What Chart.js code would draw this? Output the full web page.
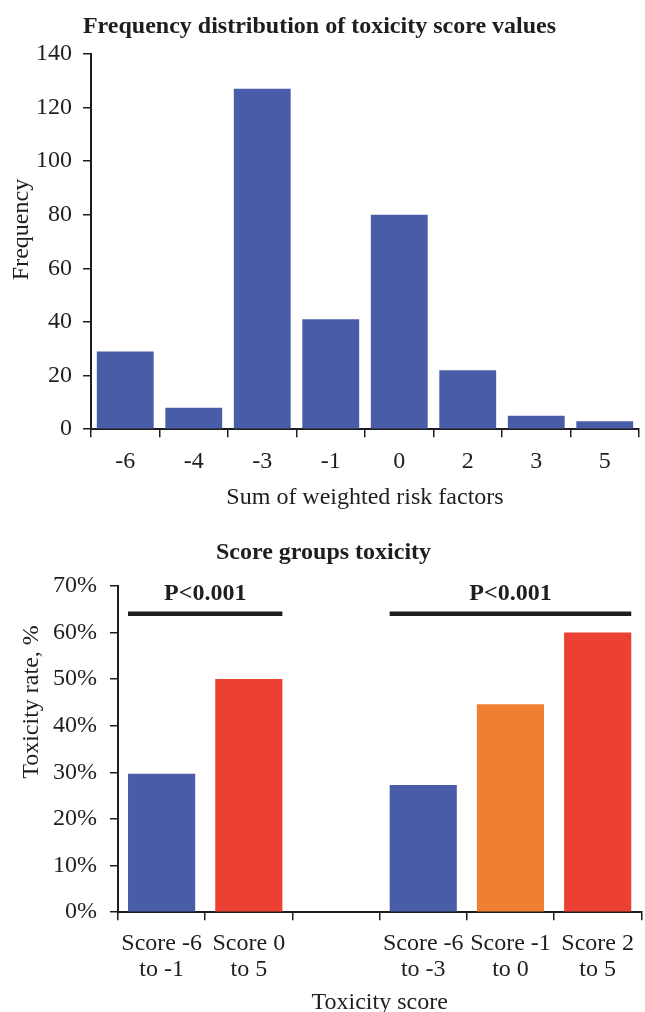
<!DOCTYPE html>
<html>
<head>
<meta charset="utf-8">
<script src="https://cdn.jsdelivr.net/npm/chart.js@4.4.1/dist/chart.umd.min.js"></script>
<style>
  html, body { margin: 0; padding: 0; background: #fff; height: 1012px; overflow: hidden; }
  .box { position: absolute; left: 0; width: 645px; }
  #top { top: 0; height: 515px; }
  #bottom { top: 525px; height: 490px; }
</style>
</head>
<body>
<div class="box" id="top"><canvas id="freqChart"></canvas></div>
<div class="box" id="bottom"><canvas id="toxChart"></canvas></div>
<script>
// frequency distribution
const scoreLabels = ['-6', '-4', '-3', '-1', '0', '2', '3', '5'];
const frequencies = [29, 8, 127, 41, 80, 22, 5, 3];
const freqTicks = [0, 20, 40, 60, 80, 100, 120, 140];

// score groups toxicity
const groupLabels = [['Score -6', 'to -1'], ['Score 0', 'to 5'], '', ['Score -6', 'to -3'], ['Score -1', 'to 0'], ['Score 2', 'to 5']];
const toxicityRates = [29.7, 50, null, 27.3, 44.6, 60];
const rateTicks = [0, 10, 20, 30, 40, 50, 60, 70];
const pGroups = [[0, 1], [3, 5]];
const pLabels = ['P<0.001', 'P<0.001'];
const pLevel = 64;

const BLUE = '#485ca7';
const RED = '#ec4034';
const ORANGE = '#f07f31';
const INK = '#1e1e1e';
const SERIF = "'Liberation Serif', 'DejaVu Serif', serif";

Chart.defaults.font.family = SERIF;
Chart.defaults.color = INK;
Chart.defaults.animation = false;

function axisStyle() {
    return {
        grid: { display: true, drawOnChartArea: false, drawTicks: true, tickLength: 8, color: INK, lineWidth: 1.5 },
        border: { display: true, color: INK, width: 2 }
    };
}

// rotated y axis title, placed a bit above the chart area centre like the original
const yTitle = {
    id: 'yTitle',
    afterDraw(chart, args, opts) {
        const ctx = chart.ctx;
        const a = chart.chartArea;
        ctx.save();
        ctx.translate(opts.x, (a.top + a.bottom) / 2 + opts.dy);
        ctx.rotate(-Math.PI / 2);
        ctx.font = '24px ' + SERIF;
        ctx.fillStyle = INK;
        ctx.textAlign = 'center';
        ctx.textBaseline = 'middle';
        ctx.fillText(opts.text, 0, 0);
        ctx.restore();
    }
};

new Chart(document.getElementById('freqChart'), {
    type: 'bar',
    data: {
        labels: scoreLabels,
        datasets: [{
            data: frequencies,
            backgroundColor: BLUE,
            categoryPercentage: 1,
            barPercentage: 0.83
        }]
    },
    options: {
        responsive: true,
        maintainAspectRatio: false,
        layout: { padding: { left: 0, right: 6, bottom: 5 } },
        plugins: {
            legend: { display: false },
            tooltip: { enabled: false },
            title: {
                display: true,
                text: 'Frequency distribution of toxicity score values',
                font: { size: 24, weight: 'bold' },
                color: INK,
                padding: { top: 12, bottom: 13 }
            },
            yTitle: { text: 'Frequency', x: 22, dy: -12 }
        },
        scales: {
            x: {
                ...axisStyle(),
                ticks: { font: { size: 24 }, padding: 10 },
                title: { display: true, text: 'Sum of weighted risk factors', font: { size: 24, lineHeight: 1 }, padding: { top: 0, bottom: 0 } }
            },
            y: {
                ...axisStyle(),
                min: 0,
                max: 140,
                afterBuildTicks: s => { s.ticks = freqTicks.map(v => ({ value: v })); },
                afterFit: s => { s.width = 91; },
                ticks: { font: { size: 24 }, padding: 11 }
            }
        }
    },
    plugins: [yTitle]
});

const pBrackets = {
    id: 'pBrackets',
    afterDatasetsDraw(chart) {
        const ctx = chart.ctx;
        const bars = chart.getDatasetMeta(0).data;
        const y = chart.scales.y.getPixelForValue(pLevel);
        ctx.save();
        pGroups.forEach((g, i) => {
            const a = bars[g[0]], b = bars[g[1]];
            const x1 = a.x - a.width / 2;
            const x2 = b.x + b.width / 2;
            ctx.strokeStyle = INK;
            ctx.lineWidth = 4.5;
            ctx.beginPath();
            ctx.moveTo(x1, y);
            ctx.lineTo(x2, y);
            ctx.stroke();
            ctx.fillStyle = INK;
            ctx.font = 'bold 24px ' + SERIF;
            ctx.textAlign = 'center';
            ctx.textBaseline = 'middle';
            ctx.fillText(pLabels[i], (x1 + x2) / 2, y - 20);
        });
        ctx.restore();
    }
};

new Chart(document.getElementById('toxChart'), {
    type: 'bar',
    data: {
        labels: groupLabels,
        datasets: [{
            data: toxicityRates,
            backgroundColor: [BLUE, RED, BLUE, BLUE, ORANGE, RED],
            categoryPercentage: 1,
            barPercentage: 0.77
        }]
    },
    options: {
        responsive: true,
        maintainAspectRatio: false,
        layout: { padding: { left: 0, right: -2, bottom: 0 } },
        plugins: {
            legend: { display: false },
            tooltip: { enabled: false },
            title: {
                display: true,
                text: 'Score groups toxicity',
                font: { size: 24, weight: 'bold' },
                color: INK,
                padding: { top: 13, bottom: 19 }
            },
            yTitle: { text: 'Toxicity rate, %', x: 32, dy: -47 }
        },
        scales: {
            x: {
                ...axisStyle(),
                ticks: { font: { size: 24, lineHeight: 1.08 }, padding: 11, maxRotation: 0, autoSkip: false },
                title: { display: true, text: 'Toxicity score', font: { size: 24, lineHeight: 1 }, padding: { top: -3, bottom: 0 } }
            },
            y: {
                ...axisStyle(),
                min: 0,
                max: 70,
                afterBuildTicks: s => { s.ticks = rateTicks.map(v => ({ value: v })); },
                afterFit: s => { s.width = 118; },
                ticks: { font: { size: 24 }, padding: 13, callback: v => v + '%' }
            }
        }
    },
    plugins: [pBrackets, yTitle]
});
</script>
</body>
</html>
